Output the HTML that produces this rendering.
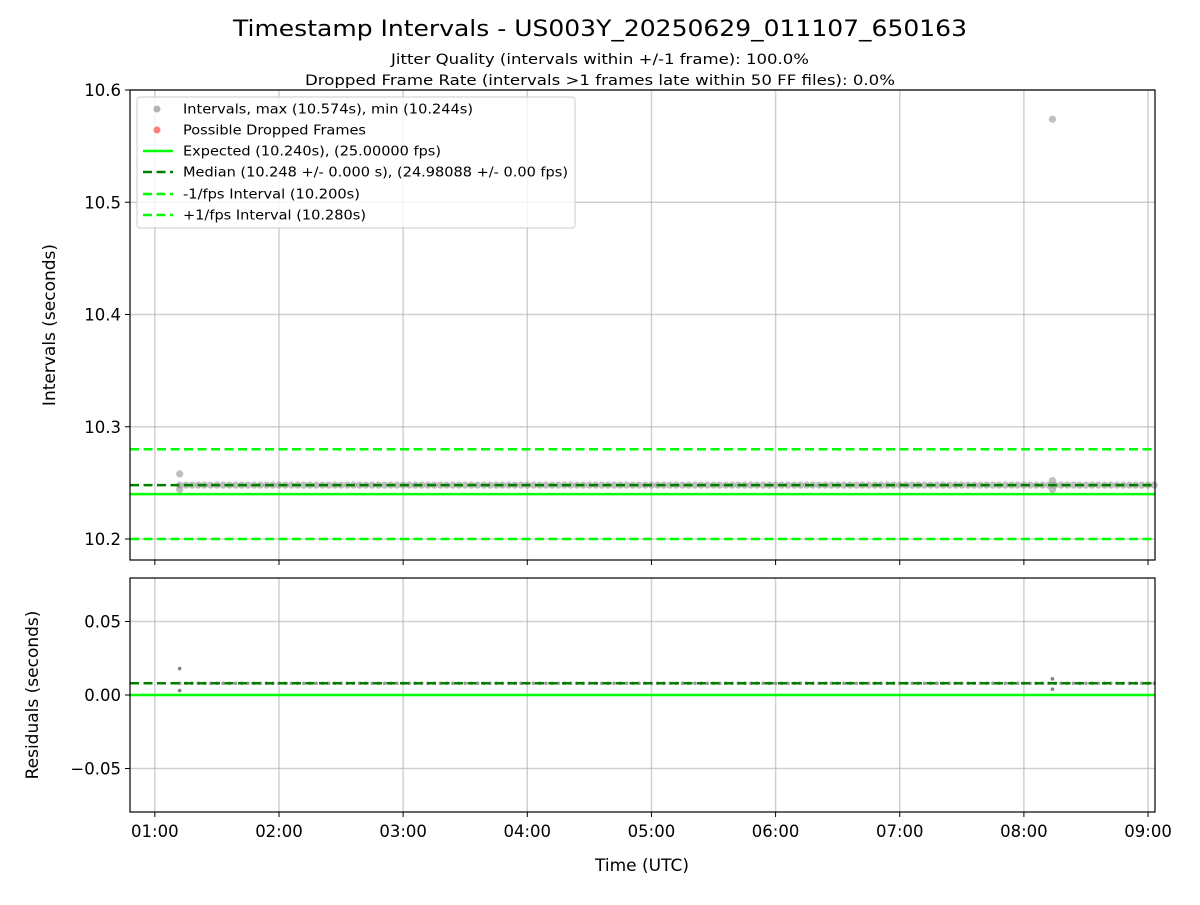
<!DOCTYPE html>
<html><head><meta charset="utf-8"><style>
body{margin:0;background:#fff;}
svg{font-family:"DejaVu Sans","Liberation Sans",sans-serif;}
</style></head><body>
<svg id="chart" width="1200" height="900" viewBox="0 0 1200 900" xmlns="http://www.w3.org/2000/svg">
<text x="600" y="36" text-anchor="middle" font-size="22" textLength="734" lengthAdjust="spacingAndGlyphs">Timestamp Intervals - US003Y_20250629_011107_650163</text>
<text x="600" y="64" text-anchor="middle" font-size="14" textLength="418" lengthAdjust="spacingAndGlyphs">Jitter Quality (intervals within +/-1 frame): 100.0%</text>
<text x="600" y="85" text-anchor="middle" font-size="14" textLength="590" lengthAdjust="spacingAndGlyphs">Dropped Frame Rate (intervals &gt;1 frames late within 50 FF files): 0.0%</text>
<g id="gtop"></g>
<g id="gbot"></g>
</svg>
<script>
const times=[1.20,1.25,1.30,1.35,1.40,1.45,1.50,1.55,1.60,1.65,1.70,1.75,1.80,1.85,1.90,1.95,2.00,2.05,2.10,2.15,2.20,2.25,2.30,2.35,2.40,2.45,2.50,2.55,2.60,2.65,2.70,2.75,2.80,2.85,2.90,2.95,3.00,3.05,3.10,3.15,3.20,3.25,3.30,3.35,3.40,3.45,3.50,3.55,3.60,3.65,3.70,3.75,3.80,3.85,3.90,3.95,4.00,4.05,4.10,4.15,4.20,4.25,4.30,4.35,4.40,4.45,4.50,4.55,4.60,4.65,4.70,4.75,4.80,4.85,4.90,4.95,5.00,5.05,5.10,5.15,5.20,5.25,5.30,5.35,5.40,5.45,5.50,5.55,5.60,5.65,5.70,5.75,5.80,5.85,5.90,5.95,6.00,6.05,6.10,6.15,6.20,6.25,6.30,6.35,6.40,6.45,6.50,6.55,6.60,6.65,6.70,6.75,6.80,6.85,6.90,6.95,7.00,7.05,7.10,7.15,7.20,7.25,7.30,7.35,7.40,7.45,7.50,7.55,7.60,7.65,7.70,7.75,7.80,7.85,7.90,7.95,8.00,8.05,8.10,8.15,8.20,8.25,8.30,8.35,8.40,8.45,8.50,8.55,8.60,8.65,8.70,8.75,8.80,8.85,8.90,8.95,9.00,9.05];
const intervals=times.map(()=>10.248);
const outlierTimes=[1.20,1.20,8.23,8.23,8.23];
const outlierValues=[10.258,10.244,10.574,10.252,10.244];
const residOutlierValues=[0.018,0.003,0.011,0.011,0.004];
const expected=10.240, median=10.248, lowBound=10.200, highBound=10.280;
const xTicks=[1,2,3,4,5,6,7,8,9];
const xTickLabels=["01:00","02:00","03:00","04:00","05:00","06:00","07:00","08:00","09:00"];
const yTopTicks=[10.2,10.3,10.4,10.5,10.6];
const yTopLabels=["10.2","10.3","10.4","10.5","10.6"];
const yBotTicks=[-0.05,0,0.05];
const yBotLabels=["\u22120.05","0.00","0.05"];

const NS="http://www.w3.org/2000/svg";
const L=130,R=1155;
const X=h=>L+(h-0.8)/(9.056-0.8)*(R-L);
const PT={top:90,bot:560,min:10.1813,max:10.6};
const PB={top:578,bot:812,min:-0.0796,max:0.0796};
const YT=v=>PT.bot-(v-PT.min)/(PT.max-PT.min)*(PT.bot-PT.top);
const YB=v=>PB.bot-(v-PB.min)/(PB.max-PB.min)*(PB.bot-PB.top);
function mk(p,tag,a){const e=document.createElementNS(NS,tag);for(const k in a)e.setAttribute(k,a[k]);p.appendChild(e);return e;}
const gTop=document.getElementById('gtop'),gBot=document.getElementById('gbot');

function panel(g,P,Y,ticks,labels,showX){
  xTicks.forEach((t,i)=>{
    const gl=mk(g,'line',{x1:X(t),x2:X(t),y1:P.top,y2:P.bot,stroke:'#b0b0b0','stroke-opacity':0.6,'stroke-width':1.5});
    
    
    const tk=mk(g,'line',{x1:X(t),x2:X(t),y1:P.bot,y2:P.bot+5,stroke:'#000','stroke-width':1});
    
    
    if(showX){const tx=mk(g,'text',{x:X(t),y:P.bot+25,'text-anchor':'middle','font-size':16.5});tx.textContent=xTickLabels[i];
      
      }
  });
  ticks.forEach((t,i)=>{
    const gl=mk(g,'line',{x1:L,x2:R,y1:Y(t),y2:Y(t),stroke:'#b0b0b0','stroke-opacity':0.6,'stroke-width':1.5});
    
    
    mk(g,'line',{x1:L-5,x2:L,y1:Y(t),y2:Y(t),stroke:'#000'});
    const tx=mk(g,'text',{x:L-9,y:Y(t)+6,'text-anchor':'end','font-size':16.5});tx.textContent=labels[i];
    
    
  });
}
panel(gTop,PT,YT,yTopTicks,yTopLabels,false);
panel(gBot,PB,YB,yBotTicks,yBotLabels,true);

function hline(g,y,color,dash,name){const l=mk(g,'line',{x1:L,x2:R,y1:y,y2:y,stroke:color,'stroke-width':2.5});if(dash)l.setAttribute('stroke-dasharray',dash);
  
  }
times.forEach((t,i)=>{const c=mk(gTop,'circle',{cx:X(t),cy:YT(intervals[i]),r:3.6,fill:'#808080','fill-opacity':0.5});
  
  });
outlierTimes.forEach((t,i)=>{const c=mk(gTop,'circle',{cx:X(t),cy:YT(outlierValues[i]),r:3.6,fill:'#808080','fill-opacity':0.5});
  
  });
hline(gTop,YT(highBound),'#00ff00','9,4.5','plus-fps-line');
hline(gTop,YT(lowBound),'#00ff00','9,4.5','minus-fps-line');
hline(gTop,YT(expected),'#00ff00',null,'expected-line');
hline(gTop,YT(median),'#007f00','9,4.5','median-line');

times.forEach((t,i)=>{const c=mk(gBot,'circle',{cx:X(t),cy:YB(intervals[i]-expected),r:1.8,fill:'#808080','fill-opacity':0.8});
  
  });
outlierTimes.forEach((t,i)=>{if(i===2)return;const c=mk(gBot,'circle',{cx:X(t),cy:YB(residOutlierValues[i]),r:1.8,fill:'#808080'});
  
  });
hline(gBot,YB(0),'#00ff00',null,'zero-residual-line');
hline(gBot,YB(median-expected),'#007f00','9,4.5','median-residual-line');

[PT,PB].forEach(P=>{const f=mk(document.getElementById('chart'),'rect',{x:L,y:P.top,width:R-L,height:P.bot-P.top,fill:'none',stroke:'#000','stroke-width':1.2});
  
  });
</script>
<svg width="1200" height="900" style="position:absolute;left:0;top:0" xmlns="http://www.w3.org/2000/svg">
<g font-family="DejaVu Sans, Liberation Sans, sans-serif" font-size="13">
<rect x="137" y="97" width="438" height="131" rx="3" fill="#fff" fill-opacity="0.8" stroke="#ccc"/>
<circle cx="157" cy="109" r="3.5" fill="#808080" fill-opacity="0.6"/><text x="183" y="113.5" textLength="290" lengthAdjust="spacingAndGlyphs">Intervals, max (10.574s), min (10.244s)</text>
<circle cx="157" cy="130" r="3.5" fill="#ff0000" fill-opacity="0.5"/><text x="183" y="134.5" textLength="183" lengthAdjust="spacingAndGlyphs">Possible Dropped Frames</text>
<line x1="143" x2="173" y1="151" y2="151" stroke="#00ff00" stroke-width="2.5"/><text x="183" y="155.5" textLength="258" lengthAdjust="spacingAndGlyphs">Expected (10.240s), (25.00000 fps)</text>
<line x1="143" x2="173" y1="172" y2="172" stroke="#007f00" stroke-width="2.5" stroke-dasharray="9,4.5"/><text x="183" y="176.5" textLength="385" lengthAdjust="spacingAndGlyphs">Median (10.248 +/- 0.000 s), (24.98088 +/- 0.00 fps)</text>
<line x1="143" x2="173" y1="194" y2="194" stroke="#00ff00" stroke-width="2.5" stroke-dasharray="9,4.5"/><text x="183" y="198.5" textLength="177" lengthAdjust="spacingAndGlyphs">-1/fps Interval (10.200s)</text>
<line x1="143" x2="173" y1="215" y2="215" stroke="#00ff00" stroke-width="2.5" stroke-dasharray="9,4.5"/><text x="183" y="219.5" textLength="183" lengthAdjust="spacingAndGlyphs">+1/fps Interval (10.280s)</text>
</g>
<text x="55" y="325" font-size="17" text-anchor="middle" transform="rotate(-90 55 325)" font-family="DejaVu Sans, Liberation Sans, sans-serif">Intervals (seconds)</text>
<text x="38" y="695" font-size="17" text-anchor="middle" transform="rotate(-90 38 695)" font-family="DejaVu Sans, Liberation Sans, sans-serif">Residuals (seconds)</text>
<text x="642" y="871" font-size="17" text-anchor="middle" font-family="DejaVu Sans, Liberation Sans, sans-serif">Time (UTC)</text>
</svg>
</body></html>
